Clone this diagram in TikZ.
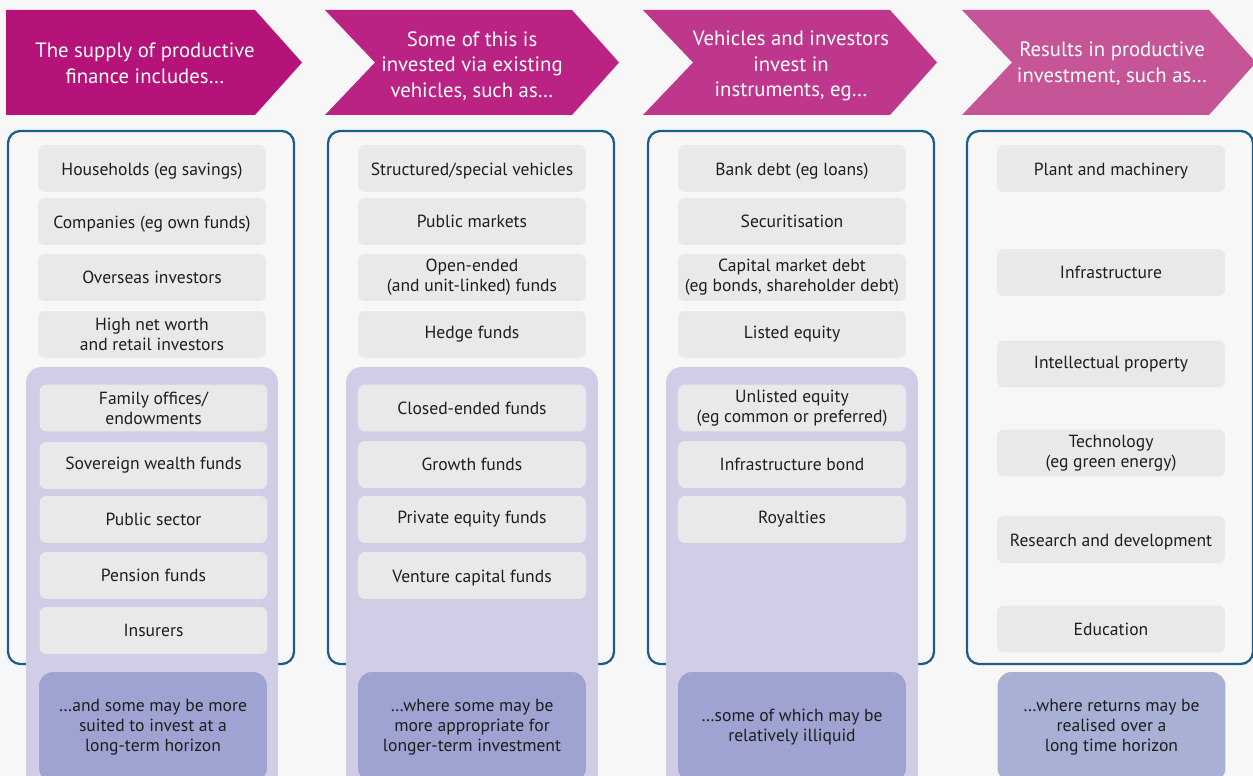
\documentclass[tikz,border=0pt]{standalone}
\usepackage{fontspec}
\setmainfont{PT Sans}
\usetikzlibrary{positioning}

\definecolor{bgpaper}{HTML}{F7F7F7}
\definecolor{headA}{HTML}{B5127A}
\definecolor{headB}{HTML}{BA2384}
\definecolor{headC}{HTML}{BF378D}
\definecolor{headD}{HTML}{C55596}
\definecolor{frameblue}{HTML}{1B5E8E}
\definecolor{itemgray}{HTML}{E9E9E9}
\definecolor{longlilac}{HTML}{D1CDE6}
\definecolor{endlilac}{HTML}{9FA3D1}
\definecolor{endlight}{HTML}{A8B0D6}
\definecolor{inktext}{HTML}{1E1E1E}
% lower a line with brackets so it sits like the others
\newcommand{\dropline}[1]{\raisebox{-1.6pt}[\height][\depth]{#1}}

\begin{document}
\begin{tikzpicture}[x=0.02cm, y=-0.02cm,
  headtext/.style={text=white, align=center, inner sep=0pt,
    font=\fontsize{11.8}{14.6}\selectfont},
  item/.style={fill=itemgray, rounded corners=4pt, minimum width=4.56cm,
    minimum height=0.94cm, inner sep=1pt, align=center, text=inktext,
    font=\fontsize{10}{11.4}\selectfont},
  endnote/.style={item, fill=endlilac, rounded corners=8pt,
    minimum height=2.2cm},
  frame/.style={draw=frameblue, line width=1.3pt, rounded corners=7pt},
  longterm/.style={fill=longlilac, rounded corners=9pt}]
  \fill[bgpaper] (0,0) rectangle (1253,776);
  \useasboundingbox (0,0) rectangle (1253,776);

  % header arrows
  \fill[headA] (6,10) -- (255,10) -- (302,62.5) -- (255,115) -- (6,115) -- cycle;
  \foreach \lx/\col in {325/headB, 643/headC, 962/headD}
    \fill[\col] (\lx,10) -- (\lx+247,10) -- (\lx+294,62.5) -- (\lx+247,115)
      -- (\lx,115) -- (\lx+50,62.5) -- cycle;
  \node[headtext] (head1) at (145,63) {The supply of productive\\finance includes…};
  \node[headtext] (head2) at (472,66) {Some of this is\\invested via existing\\vehicles, such as…};
  \node[headtext] (head3) at (791,66) {Vehicles and investors\\invest in\\instruments, eg…};
  \node[headtext] (head4) at (1112,64) {Results in productive\\investment, such as…};

  % frames and long-term panels
  \foreach \lx in {8, 328, 648, 967}
    \draw[frame] (\lx,131) rectangle (\lx+286,664);
  \foreach \lx in {26, 346, 666}
    \fill[longterm] (\lx,367) rectangle (\lx+252,800);

  % supply
  \foreach \i/\y/\txt in {1/168.5/{\dropline{Households (eg savings)}},
      2/221.5/{\dropline{Companies (eg own funds)}}, 3/277.5/{Overseas investors},
      4/334.5/{High net worth\\and retail investors}}
    \node[item] (sup\i) at (152,\y) {\txt};
  \foreach \i/\y/\txt in {5/408/{Family offices/\\endowments},
      6/465.5/{Sovereign wealth funds}, 7/519.5/{Public sector},
      8/575.5/{Pension funds}, 9/630.5/{Insurers}}
    \node[item] (sup\i) at (153.5,\y) {\txt};
  \node[endnote] (supnote) at (153,727)
    {…and some may be more\\suited to invest at a\\long-term horizon};

  % vehicles
  \foreach \i/\y/\txt in {1/168.5/{\dropline{Structured/special vehicles}},
      2/221.5/{Public markets}, 3/277.5/{Open-ended\\(and unit-linked) funds},
      4/334.5/{Hedge funds}, 5/408/{Closed-ended funds},
      6/464.5/{Growth funds}, 7/519.5/{Private equity funds},
      8/575.5/{\dropline{Venture capital funds}}}
    \node[item] (veh\i) at (472,\y) {\txt};
  \node[endnote] (vehnote) at (472,727)
    {…where some may be\\more appropriate for\\longer-term investment};

  % instruments
  \foreach \i/\y/\txt in {1/168.5/{\dropline{Bank debt (eg loans)}},
      2/221.5/{Securitisation},
      3/277.5/{Capital market debt\\(eg bonds, shareholder debt)},
      4/334.5/{Listed equity},
      5/408/{Unlisted equity\\(eg common or preferred)},
      6/464.5/{Infrastructure bond}, 7/519.5/{Royalties}}
    \node[item] (ins\i) at (792,\y) {\txt};
  \node[endnote] (insnote) at (792,727)
    {…some of which may be\\relatively illiquid};

  % results
  \foreach \i/\y/\txt in {1/168.5/{\dropline{Plant and machinery}},
      2/272.5/{Infrastructure}, 3/364/{Intellectual property},
      4/453/{Technology\\(eg green energy)},
      5/539.5/{\dropline{Research and development}}, 6/629/{Education}}
    \node[item] (res\i) at (1111,\y) {\txt};
  \node[endnote, fill=endlight] (resnote) at (1111.5,727)
    {…where returns may be\\realised over a\\long time horizon};
\end{tikzpicture}
\end{document}
